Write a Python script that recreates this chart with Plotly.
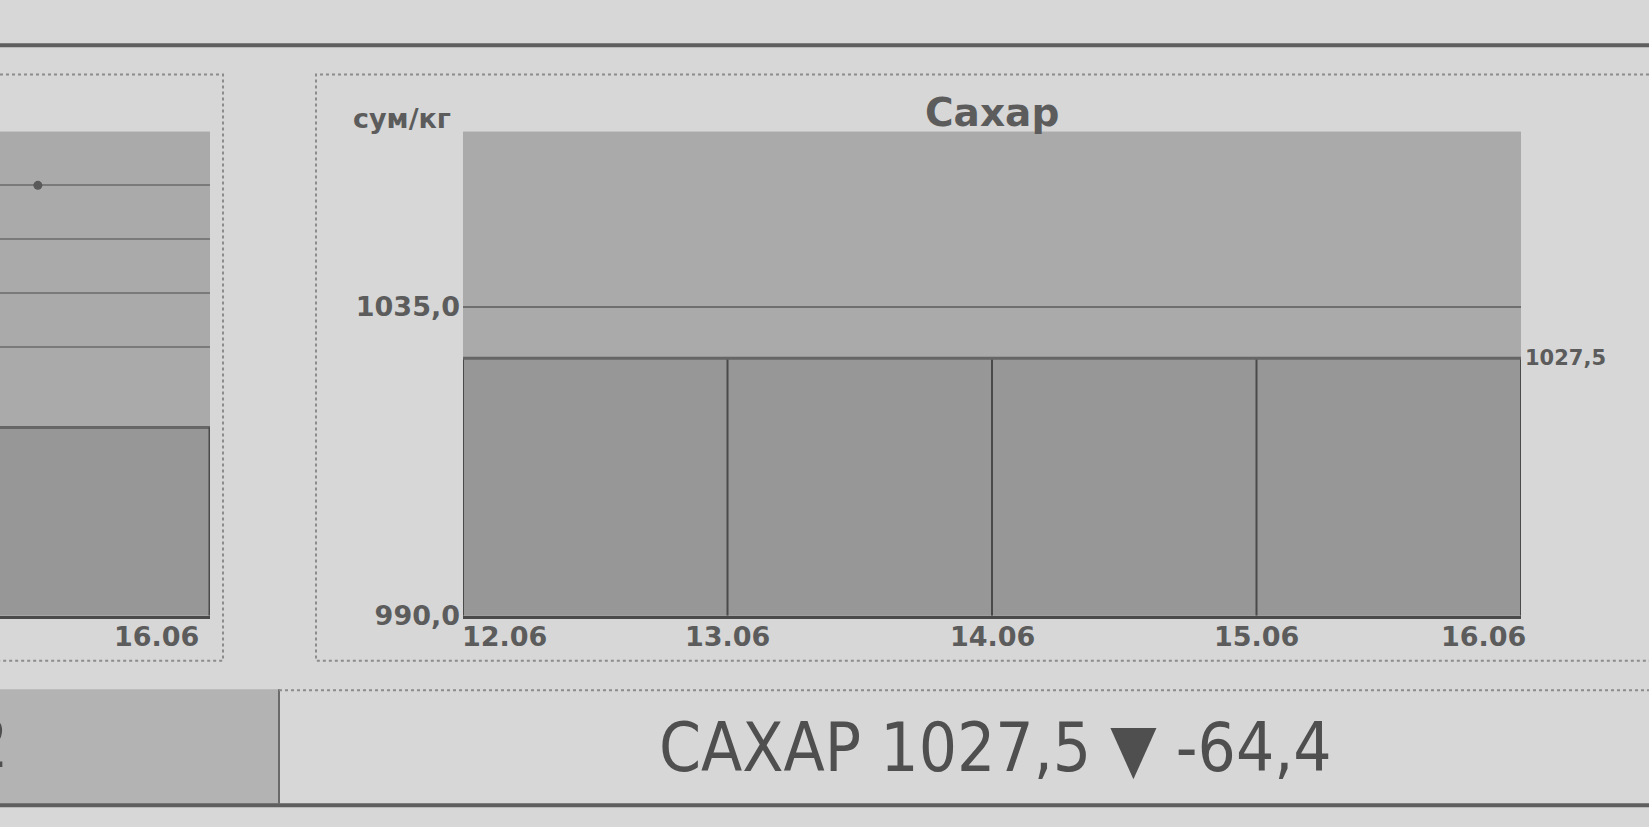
import plotly.graph_objects as go

# ---- data ----
dates = ["12.06", "13.06", "14.06", "15.06", "16.06"]
sugar_price = [1027.5, 1027.5, 1027.5, 1027.5, 1027.5]
sugar_change = -64.4
product_name = "Сахар"
ticker_name = "САХАР"
unit_label = "сум/кг"
y_ticks = [990.0, 1035.0]
y_min, y_max = 990.0, 1060.5

# neighbouring (cut-off) panel
left_values = [3.5, 3.5, 3.5, 3.5, 3.5]
left_grid = [5, 6, 7, 8]
left_marker_x = ["15.06"]
left_marker_y = [8]

W, H = 1649, 827
BG = "#d7d7d7"
PLOT_BG = "#aaaaaa"
FILL = "#979797"
TXT = "#5c5c5c"
BOLD = "DejaVu Sans, Liberation Sans, Arial"
LAB_FONT = dict(family=BOLD, size=27, color=TXT, weight="bold")
SMALL_FONT = dict(family=BOLD, size=21, color=TXT, weight="bold")
TICKER_FONT = dict(family="Liberation Sans Narrow, Arial Narrow, DejaVu Sans Condensed, sans-serif",
                   size=67, color="#4f4f4f")


def px(x):
    return x / W


def py(y):
    return 1 - y / H


fig = go.Figure()

# main chart
fig.add_trace(go.Scatter(
    x=dates, y=sugar_price, mode="lines",
    line=dict(color="#666666", width=3),
    fill="tozeroy", fillcolor=FILL,
    error_y=dict(type="data", symmetric=False,
                 array=[0] * len(sugar_price),
                 arrayminus=[v - y_min for v in sugar_price],
                 color="#4a4a4a", thickness=2, width=0),
    xaxis="x", yaxis="y", showlegend=False, hoverinfo="skip",
))

# left (cut-off) panel
fig.add_trace(go.Scatter(
    x=dates, y=left_values, mode="lines",
    line=dict(color="#666666", width=3),
    fill="tozeroy", fillcolor=FILL,
    xaxis="x2", yaxis="y2", showlegend=False, hoverinfo="skip",
))
fig.add_trace(go.Scatter(
    x=left_marker_x, y=left_marker_y, mode="markers",
    marker=dict(color="#5a5a5a", size=9),
    xaxis="x2", yaxis="y2", showlegend=False, hoverinfo="skip",
))

PLOT_TOP, PLOT_BOT = 134, 627
dom_y = [py(PLOT_BOT), py(PLOT_TOP)]
LABEL_Y = py(648)

annotations = []
# x tick labels of the main chart
for i, d in enumerate(dates):
    if i == 0:
        anchor, shift = "left", -3
    elif i == len(dates) - 1:
        anchor, shift = "right", 7
    else:
        anchor, shift = "center", 0
    annotations.append(dict(x=i, xref="x", y=LABEL_Y, yref="paper", text=d,
                            showarrow=False, xanchor=anchor, xshift=shift,
                            yanchor="middle", font=LAB_FONT))
# left panel label
annotations.append(dict(x=len(dates) - 1, xref="x2", y=LABEL_Y, yref="paper", text=dates[-1],
                        showarrow=False, xanchor="right", xshift=-9, yanchor="middle",
                        font=LAB_FONT))
# last value label
annotations.append(dict(x=len(dates) - 1, xref="x", y=sugar_price[-1], yref="y",
                        text=f"{sugar_price[-1]:.1f}".replace(".", ","),
                        showarrow=False, xanchor="left", yanchor="middle", xshift=2,
                        font=SMALL_FONT))
# unit label and title
annotations.append(dict(x=px(402), y=py(121), xref="paper", yref="paper", text=unit_label,
                        showarrow=False, xanchor="center", yanchor="middle", font=LAB_FONT))
annotations.append(dict(x=px(992), y=py(115), xref="paper", yref="paper", text=product_name,
                        showarrow=False, xanchor="center", yanchor="middle",
                        font=dict(family=BOLD, size=39, color=TXT, weight="bold")))
# bottom ticker
ticker = f"{ticker_name} {sugar_price[-1]:.1f} ▼ {sugar_change:.1f}".replace(".", ",")
annotations.append(dict(x=px(995), y=py(762), xref="paper", yref="paper", text=ticker,
                        showarrow=False, xanchor="center", yanchor="middle", font=TICKER_FONT))
annotations.append(dict(x=px(10), y=py(758), xref="paper", yref="paper", text="2",
                        showarrow=False, xanchor="right", yanchor="middle", font=TICKER_FONT))

DOT = dict(color="#8c8c8c", width=2, dash="dot")
shapes = [
    # top and bottom thick rules
    dict(type="line", xref="paper", yref="paper", x0=0, x1=1, y0=py(46), y1=py(46),
         line=dict(color="#5f5f5f", width=4)),
    dict(type="line", xref="paper", yref="paper", x0=0, x1=1, y0=py(820), y1=py(820),
         line=dict(color="#5f5f5f", width=4)),
    # bottom left grey box
    dict(type="rect", xref="paper", yref="paper", x0=0, x1=px(279), y0=py(819), y1=py(702),
         fillcolor="#b3b3b3", line=dict(width=0), layer="below"),
    dict(type="line", xref="paper", yref="paper", x0=px(279), x1=px(279), y0=py(819), y1=py(702),
         line=dict(color="#6a6a6a", width=2)),
    # dotted panel borders
    dict(type="path", xref="paper", yref="paper",
         path=f"M {px(0)},{py(76)} L {px(223)},{py(76)} L {px(223)},{py(673)} L {px(0)},{py(673)}",
         line=DOT),
    dict(type="path", xref="paper", yref="paper",
         path=f"M {px(1649)},{py(76)} L {px(316)},{py(76)} L {px(316)},{py(673)} L {px(1649)},{py(673)}",
         line=DOT),
    dict(type="line", xref="paper", yref="paper", x0=px(279), x1=1, y0=py(703), y1=py(703),
         line=DOT),
    # right edge of the left panel's area
    dict(type="line", xref="x2", yref="y2", x0=len(dates) - 1, x1=len(dates) - 1,
         y0=0, y1=left_values[-1], line=dict(color="#4a4a4a", width=3)),
]

fig.update_layout(
    width=W, height=H,
    margin=dict(l=0, r=0, t=0, b=0),
    paper_bgcolor=BG, plot_bgcolor=PLOT_BG,
    separators=", ",
    showlegend=False,
    xaxis=dict(domain=[px(463), px(1521)], type="category", categoryorder="array",
               categoryarray=dates, range=[0, len(dates) - 1], showgrid=False,
               showticklabels=False, zeroline=False, showline=True,
               linecolor="#4a4a4a", linewidth=3, fixedrange=True),
    yaxis=dict(domain=dom_y, range=[y_min, y_max], tickvals=y_ticks, tickformat=".1f",
               showgrid=True, gridcolor="#6f6f6f", gridwidth=2, zeroline=False,
               ticks="", ticklabelstandoff=2, tickfont=LAB_FONT, showline=False,
               fixedrange=True),
    xaxis2=dict(domain=[0, px(210)], type="category", categoryorder="array",
                categoryarray=dates, range=[2.78, len(dates) - 1], showgrid=False,
                showticklabels=False, zeroline=False, showline=True,
                linecolor="#4a4a4a", linewidth=3, anchor="y2", fixedrange=True),
    yaxis2=dict(domain=dom_y, range=[0, 9], tickvals=left_grid, showticklabels=False,
                showgrid=True, gridcolor="#7a7a7a", gridwidth=2, zeroline=False,
                anchor="x2", fixedrange=True),
    annotations=annotations,
    shapes=shapes,
)

fig.write_html("out.html", config={"displayModeBar": False},
               post_script="document.body.style.margin='0px';document.body.style.overflow='hidden';")
